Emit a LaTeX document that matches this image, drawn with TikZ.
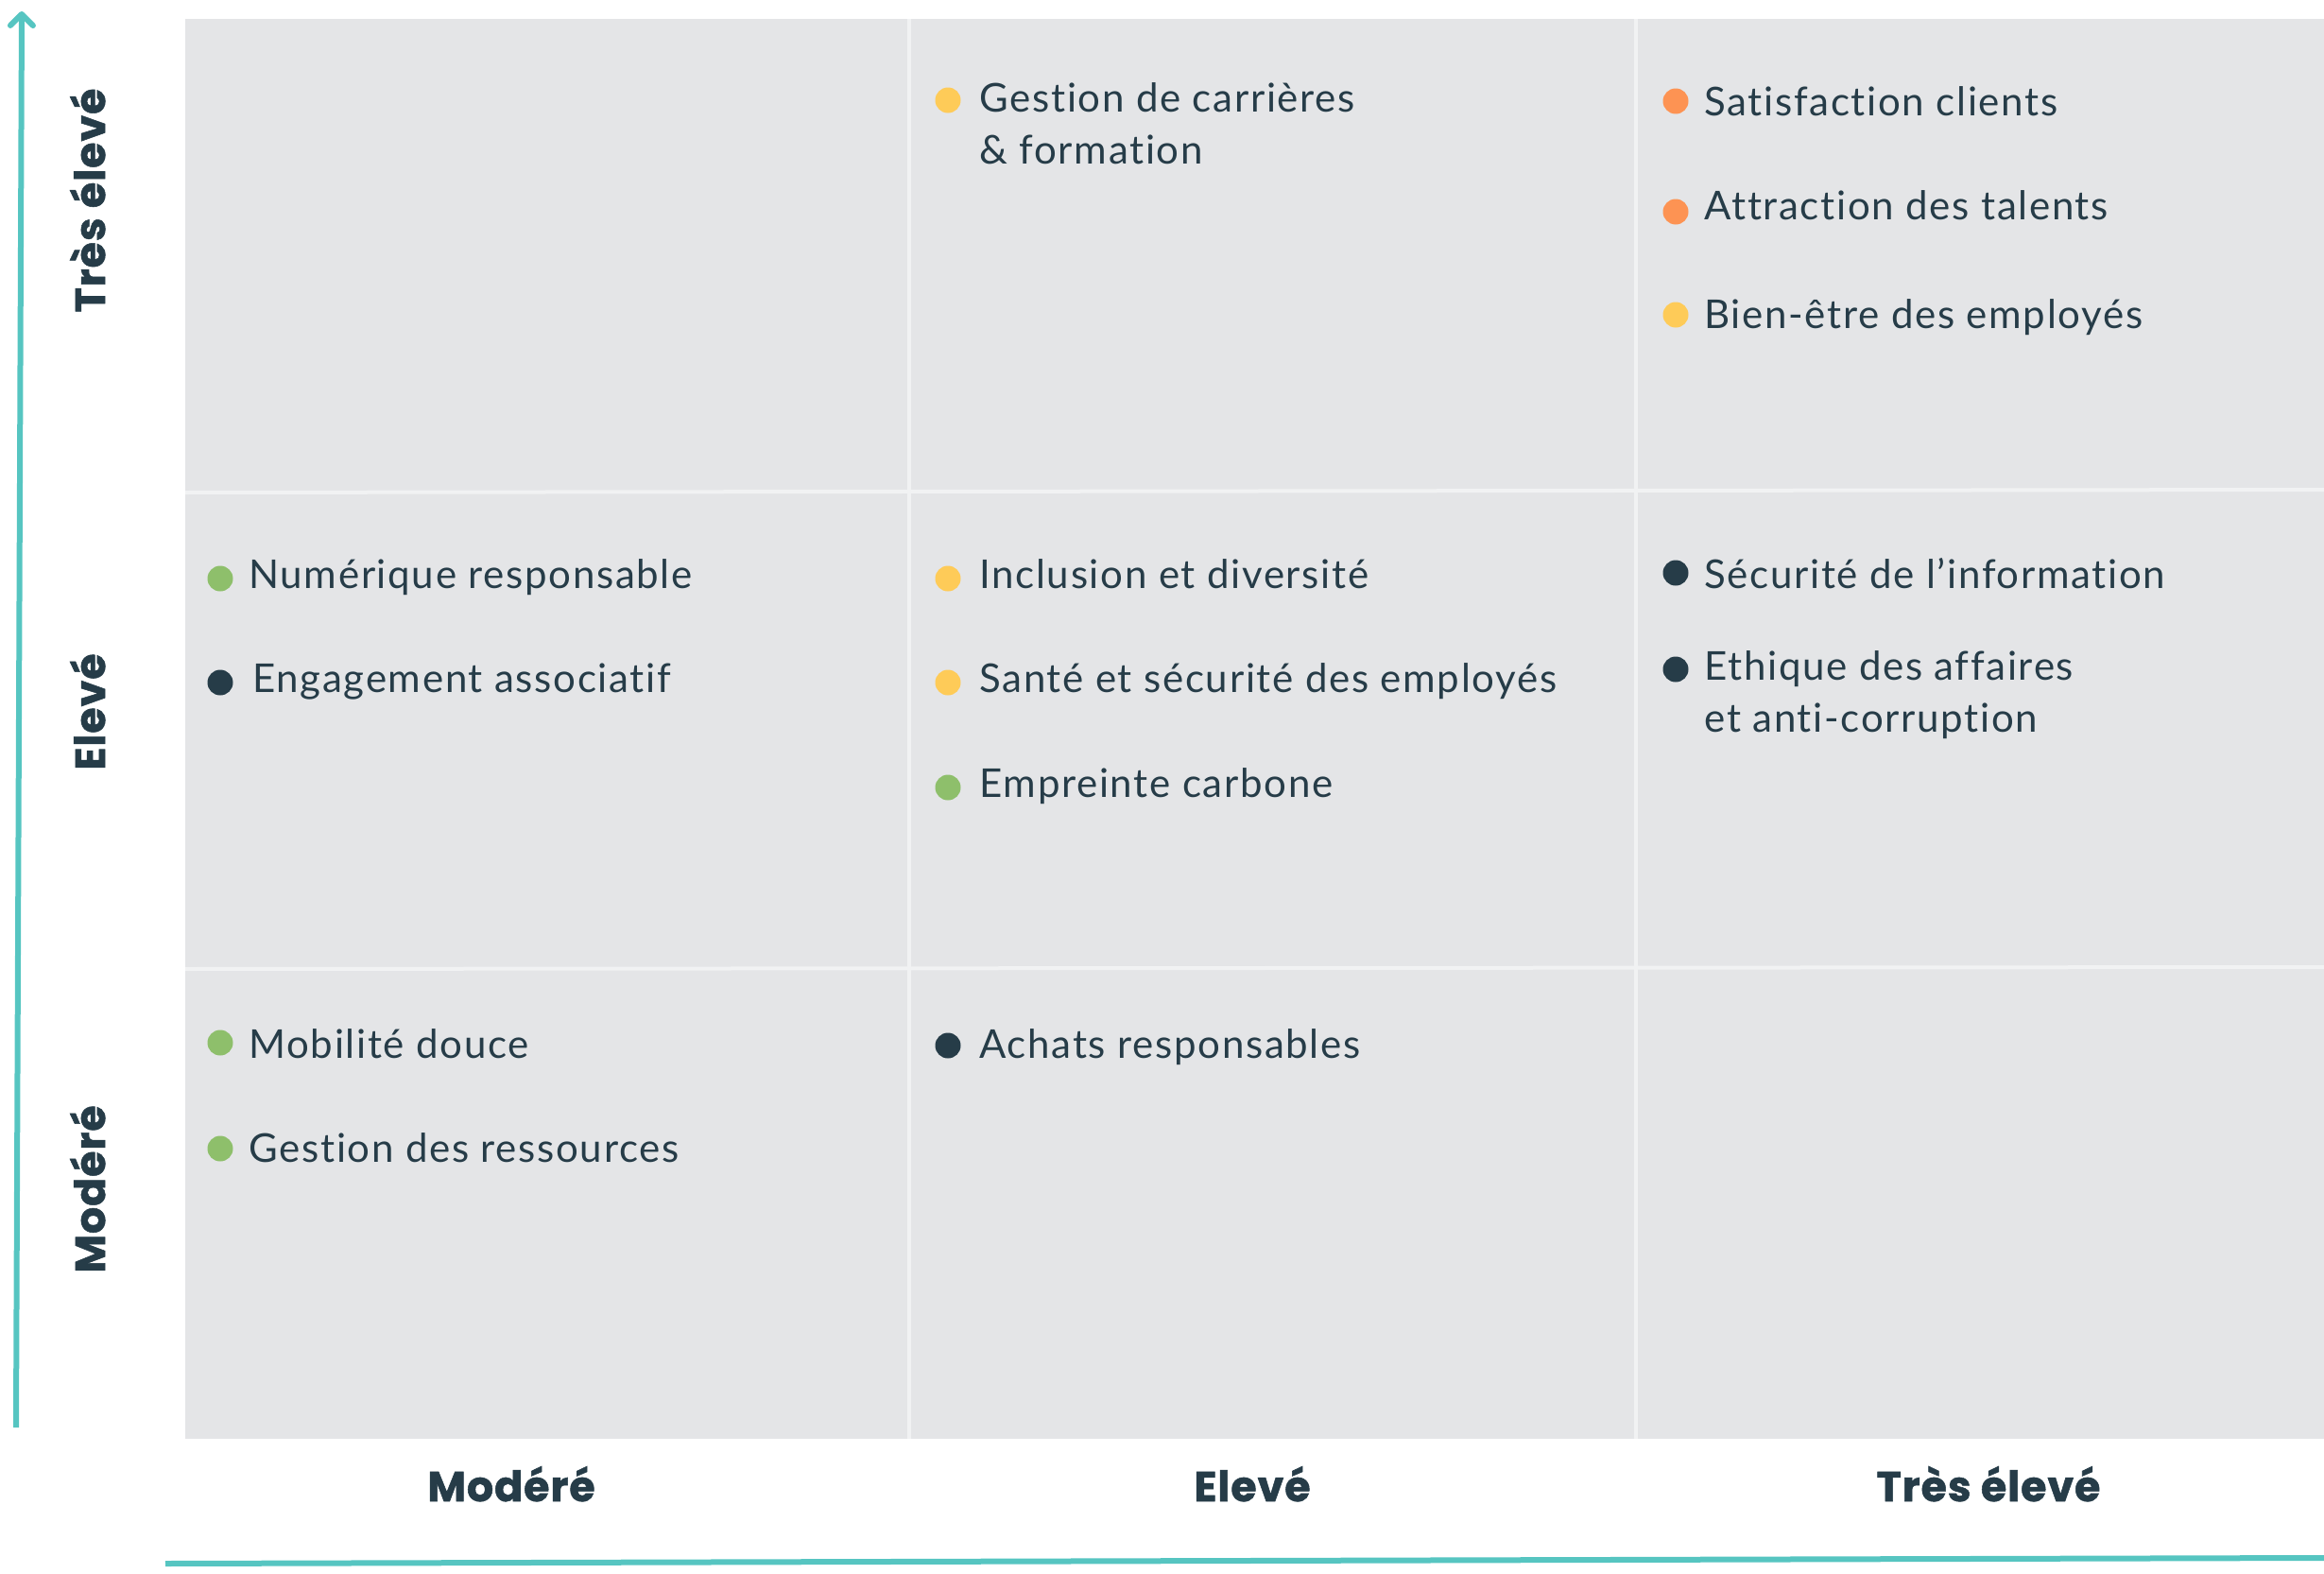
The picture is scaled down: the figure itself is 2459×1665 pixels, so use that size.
\documentclass[tikz,border=0pt]{standalone}
\usepackage{fontspec}
\setmainfont{Lato}[LetterSpace=4,Ligatures={NoCommon,NoRare}]
\newfontfamily\labfont{Poppins}[LetterSpace=2,FakeBold=1.2]
\usetikzlibrary{arrows.meta}
\definecolor{axisc}{HTML}{56C5C1}
\definecolor{cellc}{HTML}{E4E5E7}
\definecolor{sepc}{HTML}{F1F2F3}
\definecolor{inkc}{HTML}{263C48}
\definecolor{orangec}{HTML}{FD9353}
\definecolor{yellowc}{HTML}{FECB58}
\definecolor{greenc}{HTML}{8EBF6B}
\begin{document}
\begin{tikzpicture}[x=0.5pt,y=-0.5pt,
  axis/.style={draw=axisc,line width=3pt},
  sepline/.style={draw=sepc,line width=2pt},
  dot/.style={circle,inner sep=0pt,minimum size=13.5pt},
  item/.style={anchor=base west,inner sep=0pt,text=inkc,font=\fontsize{21}{27.5}\selectfont},
  lab/.style={anchor=base,inner sep=0pt,text=inkc,font=\labfont\bfseries\fontsize{22.2}{26}\selectfont}]
\useasboundingbox (0,0) rectangle (2459,1665);
% grid
\fill[cellc] (196,20) rectangle (2459,1522);
\coordinate (c1t) at (962,20);  \coordinate (c1b) at (962,1522);
\coordinate (c2t) at (1731,20); \coordinate (c2b) at (1731,1522);
\coordinate (r1l) at (196,521); \coordinate (r1r) at (2459,518);
\coordinate (r2l) at (196,1025); \coordinate (r2r) at (2459,1023);
\draw[sepline] (c1t) -- (c1b);
\draw[sepline] (c2t) -- (c2b);
\draw[sepline] (r1l) -- (r1r);
\draw[sepline] (r2l) -- (r2r);
% axes
\coordinate (ybot) at (17,1510); \coordinate (ytop) at (23,12);
\draw[axis,-{Straight Barb[round,length=6pt,width=12pt]}] (ybot) -- (ytop);
\coordinate (xl) at (175,1654); \coordinate (xr) at (2459,1648);
\draw[axis] (xl) -- (xr);
% axis labels
\node[lab] (bx1) at (541,1588) {Modéré};
\node[lab] (bx2) at (1325,1588) {Elevé};
\node[lab] (bx3) at (2104,1588) {Très élevé};
\node[lab,rotate=90] (ly1) at (111,1258) {Modéré};
\node[lab,rotate=90] (ly2) at (111,753) {Elevé};
\node[lab,rotate=90] (ly3) at (111,212) {Très élevé};
% top row
\node[dot,fill=yellowc] (dA) at (1003,106) {};
\node[item] (tA) at (1036,118) {Gestion de carrières};
\node[item] (tA2) at (1036,173) {\& formation};
\node[dot,fill=orangec] (dB) at (1773,107) {};
\node[item] (tB) at (1803,122) {Satisfaction clients};
\node[dot,fill=orangec] (dC) at (1773,224) {};
\node[item] (tC) at (1803,232) {Attraction des talents};
\node[dot,fill=yellowc] (dD) at (1773,333) {};
\node[item] (tD) at (1803,347) {Bien-être des employés};
% middle row
\node[dot,fill=greenc] (dE) at (233,612) {};
\node[item] (tE) at (263,622) {Numérique responsable};
\node[dot,fill=inkc] (dF) at (233,722) {};
\node[item] (tF) at (267,732) {Engagement associatif};
\node[dot,fill=yellowc] (dG) at (1003,612) {};
\node[item] (tG) at (1036,622) {Inclusion et diversité};
\node[dot,fill=yellowc] (dH) at (1003,722) {};
\node[item] (tH) at (1036,732) {Santé et sécurité des employés};
\node[dot,fill=greenc] (dI) at (1003,833) {};
\node[item] (tI) at (1036,843) {Empreinte carbone};
\node[dot,fill=inkc] (dJ) at (1773,606) {};
\node[item] (tJ) at (1803,622) {Sécurité de l’information};
\node[dot,fill=inkc] (dK) at (1773,708) {};
\node[item] (tK) at (1803,719) {Ethique des affaires};
\node[item] (tK2) at (1803,774) {et anti-corruption};
% bottom row
\node[dot,fill=greenc] (dL) at (233,1103) {};
\node[item] (tL) at (263,1119) {Mobilité douce};
\node[dot,fill=greenc] (dM) at (233,1215) {};
\node[item] (tM) at (263,1229) {Gestion des ressources};
\node[dot,fill=inkc] (dN) at (1003,1106) {};
\node[item] (tN) at (1036,1119) {Achats responsables};
\end{tikzpicture}
\end{document}
